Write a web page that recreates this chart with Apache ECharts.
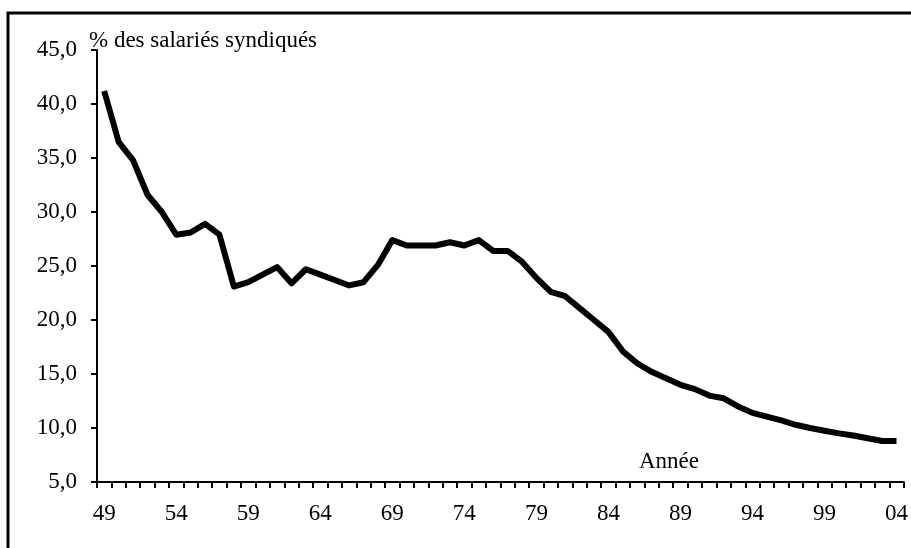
<!DOCTYPE html>
<html>
<head>
<meta charset="utf-8">
<script src="https://cdn.jsdelivr.net/npm/echarts@6/dist/echarts.min.js"></script>
<style>
  html, body { margin: 0; padding: 0; background: #fff; }
  #chart { width: 911px; height: 548px; }
</style>
</head>
<body>
<div id="chart"></div>
<script>
// années 1949 - 2004, libellés sur deux chiffres
var years = ['49','50','51','52','53','54','55','56','57','58','59','60','61','62','63','64','65','66','67','68',
  '69','70','71','72','73','74','75','76','77','78','79','80','81','82','83','84','85','86','87','88',
  '89','90','91','92','93','94','95','96','97','98','99','00','01','02','03','04'];

// % des salariés syndiqués
var tauxSyndic = [41.2, 36.5, 34.8, 31.6, 30.0, 27.9, 28.1, 28.9, 27.9, 23.1,
  23.5, 24.2, 24.9, 23.4, 24.7, 24.2, 23.7, 23.2, 23.5, 25.1,
  27.4, 26.9, 26.9, 26.9, 27.2, 26.9, 27.4, 26.4, 26.4, 25.4,
  23.9, 22.6, 22.2, 21.1, 20.0, 18.9, 17.1, 16.0, 15.2, 14.6,
  14.0, 13.6, 13.0, 12.75, 12.0, 11.4, 11.05, 10.7, 10.3, 10.0,
  9.75, 9.5, 9.3, 9.05, 8.8, 8.8];

var yTicks = { min: 5, max: 45, interval: 5 };
var serif = '"Liberation Serif", "DejaVu Serif", serif';

var myChart = echarts.init(document.getElementById('chart'));
var option = {
  animation: false,
  title: {
    text: '% des salariés syndiqués',
    left: 84,
    top: 24,
    textStyle: { fontFamily: serif, fontSize: 23, fontWeight: 'normal', color: '#000' }
  },
  graphic: [
    {
      type: 'rect',
      shape: { x: 8, y: 13, width: 930, height: 560 },
      style: { fill: 'none', stroke: '#000', lineWidth: 3 }
    },
    {
      type: 'text',
      left: 639,
      top: 450,
      style: { text: 'Année', font: '23px ' + serif, fill: '#000' }
    }
  ],
  grid: { left: 97, right: 4, top: 50, bottom: 66 },
  xAxis: {
    type: 'category',
    data: years,
    boundaryGap: true,
    axisLine: { lineStyle: { color: '#000', width: 2 } },
    axisTick: { show: true, interval: 0, length: 6, lineStyle: { color: '#000', width: 2 } },
    axisLabel: { interval: 4, margin: 20, color: '#000', fontFamily: serif, fontSize: 23 },
    splitLine: { show: false }
  },
  yAxis: {
    type: 'value',
    min: yTicks.min,
    max: yTicks.max,
    interval: yTicks.interval,
    axisLine: { show: true, lineStyle: { color: '#000', width: 2 } },
    axisTick: { show: true, length: 6, lineStyle: { color: '#000', width: 2 } },
    axisLabel: {
      margin: 20,
      color: '#000',
      fontFamily: serif,
      fontSize: 23,
      formatter: function (v) { return v.toFixed(1).replace('.', ','); }
    },
    splitLine: { show: false }
  },
  series: [
    {
      name: 'taux',
      type: 'line',
      data: tauxSyndic,
      showSymbol: false,
      lineStyle: { color: '#000', width: 6, join: 'round' },
      itemStyle: { color: '#000' }
    }
  ]
};
myChart.setOption(option);
</script>
</body>
</html>
